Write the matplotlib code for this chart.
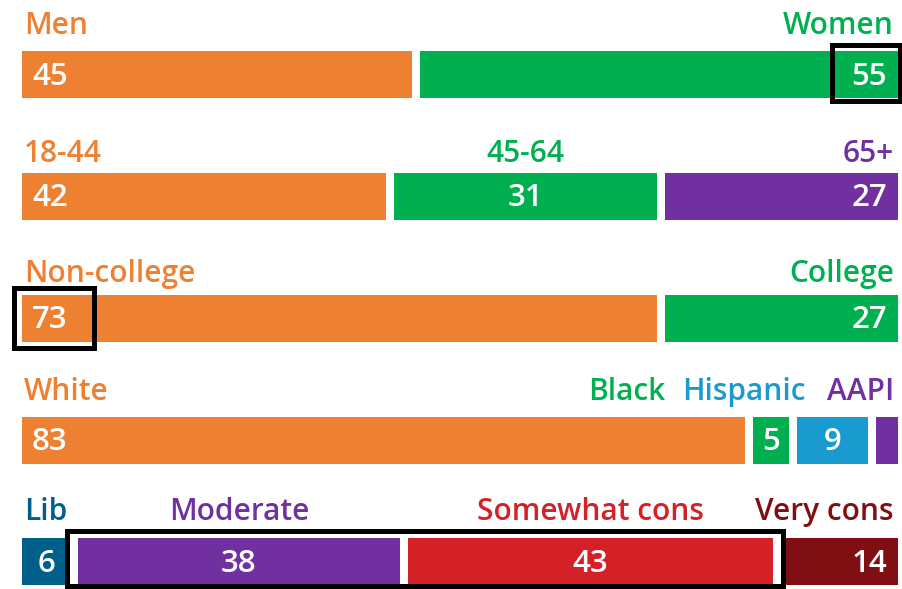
import matplotlib
matplotlib.use("Agg")
import matplotlib.pyplot as plt
from matplotlib.patches import Rectangle

plt.rcParams['font.family'] = ['Open Sans', 'DejaVu Sans']

ORANGE = "#EE8032"
GREEN = "#00B050"
PURPLE = "#7030A0"
LBLUE = "#1A9BD0"
DBLUE = "#005F8A"
RED = "#D42027"
DRED = "#7F0F12"

# ---- data ----
gender_labels = ["Men", "Women"]
gender_values = [45, 55]
gender_colors = [ORANGE, GREEN]

age_labels = ["18-44", "45-64", "65+"]
age_values = [42, 31, 27]
age_colors = [ORANGE, GREEN, PURPLE]

edu_labels = ["Non-college", "College"]
edu_values = [73, 27]
edu_colors = [ORANGE, GREEN]

race_labels = ["White", "Black", "Hispanic", "AAPI"]
race_values = [83, 5, 9, 3]
race_colors = [ORANGE, GREEN, LBLUE, PURPLE]
race_show_value = [True, True, True, False]

ideo_labels = ["Lib", "Moderate", "Somewhat cons", "Very cons"]
ideo_values = [6, 38, 43, 14]
ideo_colors = [DBLUE, PURPLE, RED, DRED]

W, H = 902, 589
fig = plt.figure(figsize=(W / 100, H / 100), dpi=100)
ax = fig.add_axes([0, 0, 1, 1])
PX = 8.76  # px per percentage unit
ax.set_xlim(-22 / PX, 100 + 4 / PX)
ax.set_ylim(H, 0)
ax.axis("off")

BAR_H = 47
GAP = 8 / PX
FS_LABEL = 21.5
FS_VAL = 22.5
FW = 600

rows = [
    dict(labels=gender_labels, values=gender_values, colors=gender_colors, y=74.5, ly=34,
         lpos=["left", "right"]),
    dict(labels=age_labels, values=age_values, colors=age_colors, y=196, ly=162,
         lpos=["left", "center", "right"]),
    dict(labels=edu_labels, values=edu_values, colors=edu_colors, y=318, ly=282,
         lpos=["left", "right"]),
    dict(labels=race_labels, values=race_values, colors=race_colors, y=440, ly=400,
         lpos=["left", ("right", (665 - 22) / PX), ("right", (806 - 22) / PX), "right"],
         show=race_show_value, vpos=["left", "center", "center", "right"]),
    dict(labels=ideo_labels, values=ideo_values, colors=ideo_colors, y=561, ly=520,
         lpos=["left", "center", "center", "right"],
         vpos=["center", "center", "center", "right"]),
]

for r in rows:
    vals = r["values"]
    tot = float(sum(vals))
    n = len(vals)
    cum = 0.0
    show = r.get("show", [True] * n)
    vpos = r.get("vpos")
    for i, (lab, v, c) in enumerate(zip(r["labels"], vals, r["colors"])):
        w = v * 100.0 / tot
        x0 = cum + (GAP / 2 if i > 0 else 0)
        x1 = cum + w - (GAP / 2 if i < n - 1 else 0)
        ax.barh(r["y"], x1 - x0, left=x0, height=BAR_H, color=c, linewidth=0)
        # category label
        lp = r["lpos"][i]
        if isinstance(lp, tuple):
            ha, lx = lp
        elif lp == "left":
            ha, lx = "left", x0 + 2 / PX
        elif lp == "right":
            ha, lx = "right", x1 - 4 / PX
        else:
            ha, lx = "center", (x0 + x1) / 2
        ax.text(lx, r["ly"], lab, color=c, fontsize=FS_LABEL, fontweight=FW,
                ha=ha, va="baseline")
        # value label
        if show[i]:
            if vpos is not None:
                vp = vpos[i]
            else:
                vp = "left" if i == 0 else ("right" if i == n - 1 else "center")
            if vp == "left":
                vha, vx = "left", x0 + 10 / PX
            elif vp == "right":
                vha, vx = "right", x1 - 11 / PX
            else:
                vha, vx = "center", (x0 + x1) / 2
            ax.text(vx, r["y"] + 10.5, str(v), color="white", fontsize=FS_VAL,
                    fontweight=FW, ha=vha, va="baseline")
        cum += w

# highlight boxes
def box(px0, py0, px1, py1):
    x0 = (px0 - 22) / PX
    x1 = (px1 - 22) / PX
    ax.add_patch(Rectangle((x0, py0), x1 - x0, py1 - py0, fill=False,
                           edgecolor="black", linewidth=3.6, clip_on=False, zorder=5))

box(832, 45, 900, 101)
box(14, 288, 94, 348)
box(67, 531, 783, 586)

fig.savefig("out.png", dpi=100)
